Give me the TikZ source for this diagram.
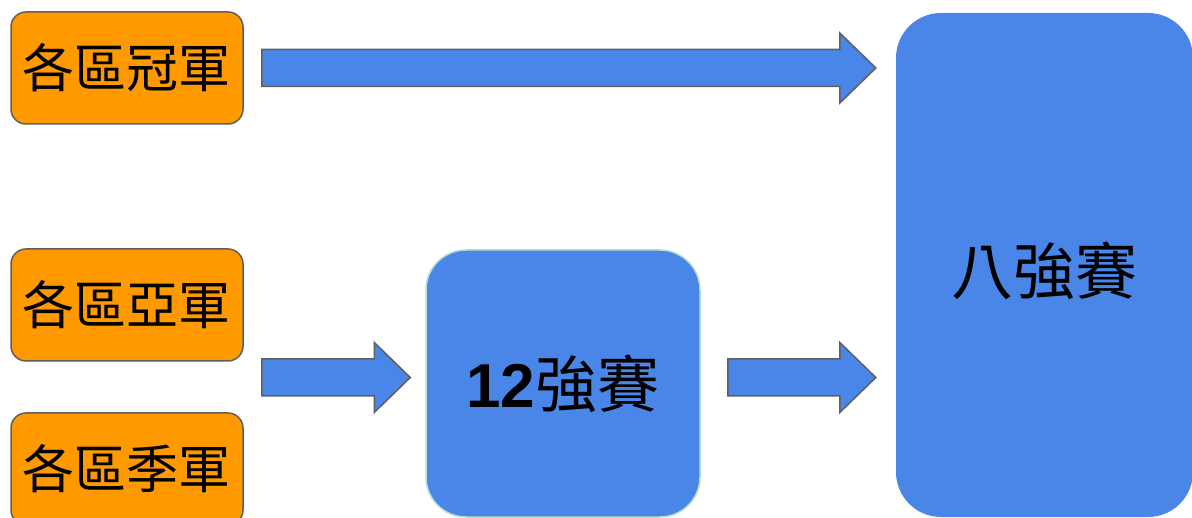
\documentclass[tikz,border=0pt]{standalone}
\usepackage{fontspec}
\setsansfont{Liberation Sans}
\newfontfamily\cjk{Noto Sans CJK TC}
\usetikzlibrary{calc}
\definecolor{orangefill}{HTML}{FF9900}
\definecolor{bluefill}{HTML}{4A86E8}
\definecolor{boxline}{HTML}{5F5F5F}
\definecolor{paleline}{HTML}{B7E1CD}
\newcommand\blockarr[2]{%
  \path[barrow] let \p1=(#1), \p2=(#2) in
    (\x1,\y1+18.5pt) -- (\x2-36pt,\y1+18.5pt) -- (\x2-36pt,\y1+35pt) -- (\x2,\y1)
    -- (\x2-36pt,\y1-35pt) -- (\x2-36pt,\y1-18.5pt) -- (\x1,\y1-18.5pt) -- cycle;}
\tikzset{
  obox/.style={draw=boxline, line width=1.5pt, fill=orangefill, rounded corners=15pt,
    minimum width=232pt, minimum height=112pt, inner sep=0pt,
    font=\cjk\fontsize{52}{60}\selectfont},
  bbox/.style={fill=bluefill, inner sep=0pt, font=\cjk\fontsize{62}{70}\selectfont},
  barrow/.style={draw=boxline, line width=1.5pt, fill=bluefill, line join=miter}
}
\begin{document}
\begin{tikzpicture}[x=1pt,y=-1pt]
\useasboundingbox (0,0) rectangle (1192,518);
\clip (0,0) rectangle (1192,518);
\node[obox] (c1) at (127,68) {各區冠軍};
\node[obox] (c2) at (127,305) {各區亞軍};
\node[obox] (c3) at (127,469) {各區季軍};
\node[bbox, draw=paleline, line width=1.5pt, rounded corners=40pt,
  minimum width=274pt, minimum height=267pt] (r12) at (563,383.5)
  {{\sffamily\bfseries 12}強賽};
\node[bbox, rounded corners=45pt, minimum width=297pt, minimum height=504pt]
  (q8) at (1044.5,265) {\raisebox{-6pt}[\height][\depth]{八強賽}};
\coordinate (a1s) at ($(c1.east)+(18,0)$);
\coordinate (a1e) at ($(q8.west |- a1s)+(-20,0)$);
\coordinate (a2s) at ($(c2.east)!0.5!(c3.east)+(18,-9.5)$);
\coordinate (a2e) at ($(r12.west |- a2s)+(-15,0)$);
\coordinate (a3s) at ($(r12.east |- a2s)+(27,0)$);
\coordinate (a3e) at ($(q8.west |- a2s)+(-20,0)$);
\blockarr{a1s}{a1e}
\blockarr{a2s}{a2e}
\blockarr{a3s}{a3e}
\end{tikzpicture}
\end{document}
